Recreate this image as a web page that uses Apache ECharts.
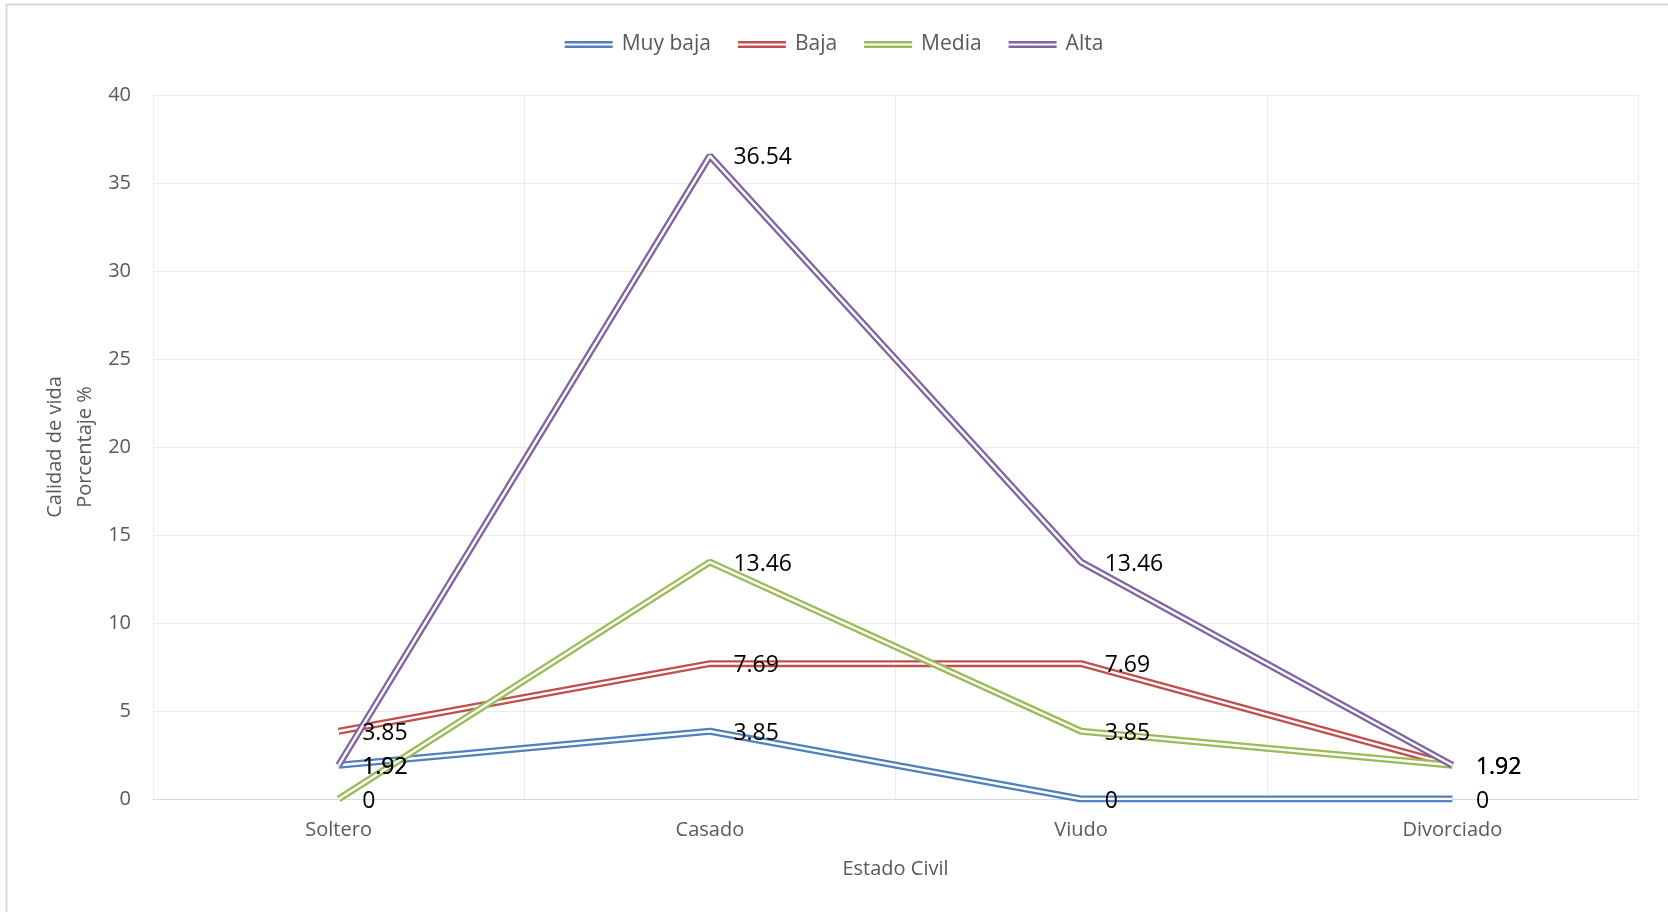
<!DOCTYPE html>
<html>
<head>
<meta charset="utf-8">
<title>Calidad de vida por estado civil</title>
<script src="https://cdn.jsdelivr.net/npm/echarts@6/dist/echarts.min.js"></script>
<style>
  html, body { margin: 0; padding: 0; background: #ffffff; }
  #chart { width: 1668px; height: 912px; }
</style>
</head>
<body>
<div id="chart"></div>
<script>
// Estado civil (categorías del eje X)
const categories = ['Soltero', 'Casado', 'Viudo', 'Divorciado'];

// Porcentaje por nivel de calidad de vida
const muyBaja = [1.92, 3.85, 0, 0];
const baja = [3.85, 7.69, 7.69, 1.92];
const media = [0, 13.46, 3.85, 1.92];
const alta = [1.92, 36.54, 13.46, 1.92];

const seriesNames = ['Muy baja', 'Baja', 'Media', 'Alta'];
const seriesColors = ['#4F81BD', '#C0504D', '#9BBB59', '#8064A2'];
const seriesData = [muyBaja, baja, media, alta];

const FONT = '"Open Sans", "Noto Sans", sans-serif';

// Two-strand legend icon
const doubleIcon = 'path://M0,0H48V2.4H0Z M0,4.6H48V7H0Z';

const series = [];
seriesData.forEach((data, i) => {
  // outer coloured stroke
  series.push({
    name: seriesNames[i],
    type: 'line',
    data: data,
    symbol: 'none',
    color: seriesColors[i],
    lineStyle: { color: seriesColors[i], width: 7 },
    z: 2,
    silent: true
  });
  // inner white stroke producing the double-line look
  series.push({
    name: seriesNames[i] + '-inner',
    type: 'line',
    data: data,
    symbol: 'none',
    lineStyle: { color: '#ffffff', width: 2.4 },
    z: 2,
    silent: true
  });
});
// value labels drawn above all lines
seriesData.forEach((data, i) => {
  series.push({
    name: seriesNames[i] + '-label',
    type: 'line',
    data: data,
    symbol: 'circle',
    symbolSize: 1,
    showSymbol: true,
    itemStyle: { color: 'rgba(0,0,0,0)' },
    lineStyle: { width: 0, opacity: 0 },
    z: 10,
    silent: true,
    label: {
      show: true,
      position: 'right',
      distance: 23,
      offset: [0, 2],
      color: '#000000',
      fontFamily: FONT,
      fontSize: 23
    }
  });
});

const chart = echarts.init(document.getElementById('chart'), null, { renderer: 'canvas' });
chart.setOption({
  backgroundColor: '#ffffff',
  animation: false,
  graphic: [{
    type: 'rect',
    shape: { x: 6.5, y: 4.5, width: 1680, height: 930 },
    style: { fill: 'none', stroke: '#d9d9d9', lineWidth: 2 },
    silent: true
  }],
  legend: {
    data: seriesNames.map((n, i) => ({ name: n, icon: doubleIcon, itemStyle: { color: seriesColors[i] } })),
    top: 29,
    left: 'center',
    itemWidth: 48,
    itemHeight: 7,
    itemGap: 27,
    textStyle: { color: '#595959', fontFamily: FONT, fontSize: 21, padding: [0, 0, 0, 4] }
  },
  grid: { left: 153, right: 30, top: 95, bottom: 113, containLabel: false },
  xAxis: {
    type: 'category',
    data: categories,
    boundaryGap: true,
    name: 'Estado Civil',
    nameLocation: 'middle',
    nameGap: 60,
    nameMoveOverlap: false,
    nameTextStyle: { color: '#595959', fontFamily: FONT, fontSize: 20 },
    axisLine: { show: true, lineStyle: { color: '#d9d9d9', width: 1 } },
    axisTick: { show: false },
    axisLabel: { color: '#595959', fontFamily: FONT, fontSize: 20, margin: 21 },
    splitLine: { show: true, lineStyle: { color: '#ececec', width: 1 } }
  },
  yAxis: {
    type: 'value',
    min: 0,
    max: 40,
    interval: 5,
    name: 'Calidad de vida\nPorcentaje %',
    nameLocation: 'middle',
    nameGap: 53,
    nameMoveOverlap: false,
    nameRotate: 90,
    nameTextStyle: { color: '#595959', fontFamily: FONT, fontSize: 20, lineHeight: 30, align: 'center' },
    axisLine: { show: false },
    axisTick: { show: false },
    axisLabel: { color: '#595959', fontFamily: FONT, fontSize: 20, margin: 22 },
    splitLine: { show: true, lineStyle: { color: '#ececec', width: 1 } }
  },
  series: series
});
</script>
</body>
</html>
